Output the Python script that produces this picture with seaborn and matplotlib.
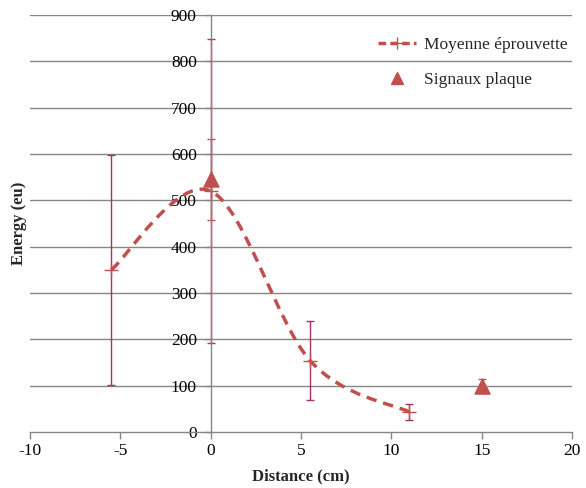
import numpy as np
import matplotlib.pyplot as plt
import seaborn as sns
from matplotlib.path import Path
from matplotlib.patches import PathPatch
from matplotlib.lines import Line2D

# Style
sns.set_style('white')
plt.rcParams['font.family'] = ['Liberation Serif', 'DejaVu Serif']
plt.rcParams['axes.unicode_minus'] = False

# Données
dist_moy = [-5.5, 0, 5.5, 11]
energy_moy = [350, 520, 154, 43]
err_moy = [248, 328, 86, 17]

dist_plaque = [0, 15]
energy_plaque = [545, 100]
err_plaque = [88, 15]

x_ticks = [-10, -5, 0, 5, 10, 15, 20]
y_ticks = [0, 100, 200, 300, 400, 500, 600, 700, 800, 900]

red = '#C0504D'
purple = '#A3336F'
gray = '#868686'

fig = plt.figure(figsize=(5.86, 4.88), dpi=100)
ax = fig.add_axes([0.0512, 0.1148, 0.925, 0.8545])

# grille horizontale
for y in y_ticks[1:]:
    ax.axhline(y, color=gray, lw=1, zorder=0)

# courbe lissée (style Excel, Bézier)
pts = np.column_stack([dist_moy, energy_moy]).astype(float)
n = len(pts)
verts = [pts[0]]
codes = [Path.MOVETO]
for i in range(n - 1):
    p_prev = pts[max(i - 1, 0)]
    p0, p1 = pts[i], pts[i + 1]
    p_next = pts[min(i + 2, n - 1)]
    c1 = p0 + (p1 - p_prev) / 6
    c2 = p1 - (p_next - p0) / 6
    verts += [c1, c2, p1]
    codes += [Path.CURVE4] * 3
ax.add_patch(PathPatch(Path(verts, codes), fill=False, edgecolor=red, lw=2.5,
                       linestyle=(0, (3, 2)), zorder=3))

# barres d'erreur
ax.errorbar(dist_moy, energy_moy, yerr=err_moy, fmt='none', ecolor=purple,
            elinewidth=1, capsize=3, capthick=1, zorder=2)
ax.errorbar(dist_plaque, energy_plaque, yerr=err_plaque, fmt='none', ecolor=red,
            elinewidth=1, capsize=3, capthick=1, zorder=2)

# points
sns.scatterplot(x=dist_moy, y=energy_moy, marker='+', s=90, color=red,
                linewidth=1, ax=ax, zorder=4)
sns.scatterplot(x=dist_plaque, y=energy_plaque, marker='^', s=120, color=red,
                edgecolor=red, ax=ax, zorder=4)

ax.set_xlim(-10, 20)
ax.set_ylim(0, 900)
ax.set_xticks(x_ticks)
ax.set_yticks(y_ticks)

ax.spines['left'].set_position(('data', 0))
ax.spines['bottom'].set_position(('data', 0))
for s in ['top', 'right']:
    ax.spines[s].set_visible(False)
for s in ['left', 'bottom']:
    ax.spines[s].set_color(gray)
    ax.spines[s].set_linewidth(1)

ax.tick_params(axis='both', direction='out', length=4, width=1, color=gray,
               labelsize=12.5, labelcolor='black')
ax.tick_params(axis='x', bottom=True, length=5, pad=3)
ax.tick_params(axis='y', left=True, pad=6)

ax.set_xlabel('Distance (cm)', fontsize=12, fontweight='bold')
ax.set_ylabel('Energy (eu)', fontsize=12, fontweight='bold')
ax.yaxis.set_label_coords(-0.006, 0.5)
ax.xaxis.set_label_coords(0.5, -0.088)

handles = [
    Line2D([], [], color=red, lw=2.5, linestyle=(0, (2.2, 1.2)), marker='+',
           markersize=9, markeredgewidth=1),
    Line2D([], [], color=red, lw=0, marker='^', markersize=8),
]
ax.legend(handles, ['Moyenne éprouvette', 'Signaux plaque'], loc='upper right',
          bbox_to_anchor=(0.996, 0.956), bbox_transform=fig.transFigure,
          frameon=False, fontsize=12.5, labelspacing=1.05, handlelength=2.2,
          handletextpad=0.5)

fig.savefig('out.png', dpi=100)
